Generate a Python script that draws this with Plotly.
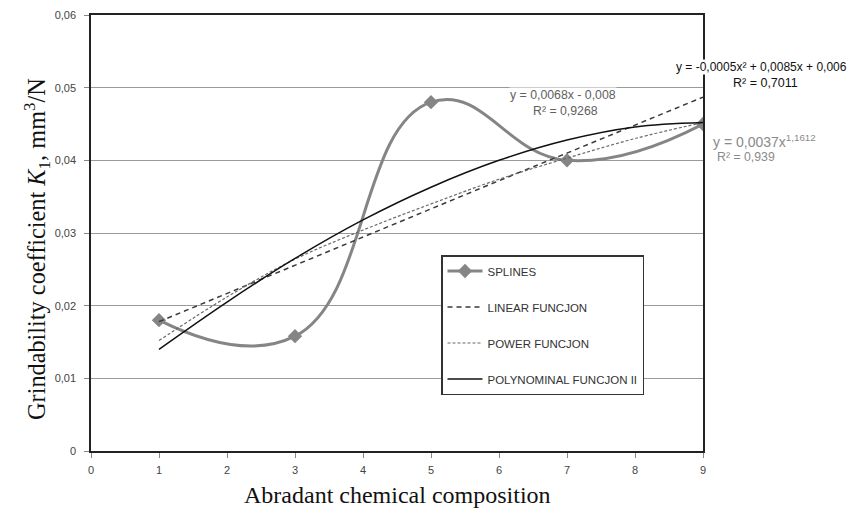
import plotly.graph_objects as go

# --- data ---
x_points = [1, 3, 5, 7, 9]
splines_y = [0.018, 0.0158, 0.048, 0.040, 0.045]

trend_x = [1, 2, 3, 4, 5, 6, 7, 8, 9]
linear_y = [0.0178, 0.0217, 0.0256, 0.0294, 0.0333, 0.0372, 0.0410, 0.0449, 0.0487]
power_y = [0.0152, 0.0212, 0.0264, 0.0304, 0.0340, 0.0374, 0.0403, 0.0430, 0.0452]
poly_y = [0.0140, 0.0205, 0.0265, 0.0318, 0.0363, 0.0400, 0.0428, 0.0446, 0.0452]

x_ticks = [0, 1, 2, 3, 4, 5, 6, 7, 8, 9]
y_ticks = [0, 0.01, 0.02, 0.03, 0.04, 0.05, 0.06]
y_ticktext = ["0", "0,01", "0,02", "0,03", "0,04", "0,05", "0,06"]

series_names = ["SPLINES", "LINEAR FUNCJON", "POWER FUNCJON", "POLYNOMINAL FUNCJON II"]
eq_poly = ["y = -0,0005x² + 0,0085x + 0,006", "R² = 0,7011"]
eq_linear = ["y = 0,0068x - 0,008", "R² = 0,9268"]
eq_power = ["y = 0,0037x<sup>1,1612</sup>", "R² = 0,939"]
x_title = "Abradant chemical composition"
y_title = "Grindability coefficient <i>K</i><sub>1</sub>, mm<sup>3</sup>/N"

sans = "Liberation Sans"
serif = "Liberation Serif"

fig = go.Figure()
fig.add_trace(go.Scatter(
    x=x_points, y=splines_y, name=series_names[0], mode="lines+markers",
    line=dict(color="#858585", width=3, shape="spline", smoothing=1.3),
    marker=dict(symbol="diamond", size=11, color="#858585"),
    legendgroup="a"))
fig.add_trace(go.Scatter(
    x=trend_x, y=linear_y, name=series_names[1], mode="lines",
    line=dict(color="#3a3a3a", width=1.5, dash="5px,4px"), legendgroup="b"))
fig.add_trace(go.Scatter(
    x=trend_x, y=power_y, name=series_names[2], mode="lines",
    line=dict(color="#6a6a6a", width=1.2, dash="3px,2px", shape="spline"), legendgroup="c"))
fig.add_trace(go.Scatter(
    x=trend_x, y=poly_y, name=series_names[3], mode="lines",
    line=dict(color="#111111", width=1.5, shape="spline"), legendgroup="d"))

# paper coords: plot x 91..703, y 15..451
def px(v):
    return (v - 91) / 612.0

def py(v):
    return (451 - v) / 436.0

def add_eq(lines, x, y, color, sizes):
    for i, t in enumerate(lines):
        fig.add_annotation(x=px(x[i]), y=py(y[i]), xref="paper", yref="paper", text=t,
                           showarrow=False, font=dict(family=sans, size=sizes[i], color=color),
                           bgcolor="white", xanchor="center", yanchor="middle", borderpad=0)

add_eq(eq_poly, [761, 765], [67, 83], "#111111", [12, 12.5])
add_eq(eq_linear, [563, 565], [95, 111], "#606060", [12.3, 12.3])
add_eq(eq_power, [764, 746], [141, 157], "#8a8a8a", [14, 12.3])

fig.add_annotation(x=px(397), y=py(495), xref="paper", yref="paper", text=x_title,
                   showarrow=False, font=dict(family=serif, size=24, color="#111111"),
                   xanchor="center", yanchor="middle")
fig.add_annotation(x=px(37), y=py(249), xref="paper", yref="paper", text=y_title,
                   showarrow=False, textangle=-90,
                   font=dict(family=serif, size=24.3, color="#111111"),
                   xanchor="center", yanchor="middle")

fig.update_layout(
    width=851, height=513,
    margin=dict(l=91, r=148, t=15, b=62),
    paper_bgcolor="white", plot_bgcolor="white",
    showlegend=True,
    legend=dict(x=px(441), y=py(255), xanchor="left", yanchor="top",
                bgcolor="white", bordercolor="#333333", borderwidth=1.5,
                font=dict(family=sans, size=11.5, color="#333333"),
                traceorder="grouped", tracegroupgap=17, itemwidth=35),
    xaxis=dict(range=[0, 9], tickvals=x_ticks, showgrid=False, zeroline=False,
               showline=True, linecolor="#222222", linewidth=1.5, mirror=True,
               ticks="outside", ticklen=5, tickcolor="#888888", automargin=False,
               ticklabelstandoff=3,
               tickfont=dict(family=sans, size=11, color="#444444")),
    yaxis=dict(range=[0, 0.06], tickvals=y_ticks, ticktext=y_ticktext,
               showgrid=True, gridcolor="#9a9a9a", gridwidth=1, zeroline=False,
               showline=True, linecolor="#222222", linewidth=1.5, mirror=True,
               ticks="outside", ticklen=5, tickcolor="#888888", automargin=False,
               ticklabelstandoff=6,
               tickfont=dict(family=sans, size=11, color="#444444")),
)

fig.write_html("out.html", config={"displayModeBar": False},
               post_script="document.body.style.margin='0';document.body.style.overflow='hidden';")
